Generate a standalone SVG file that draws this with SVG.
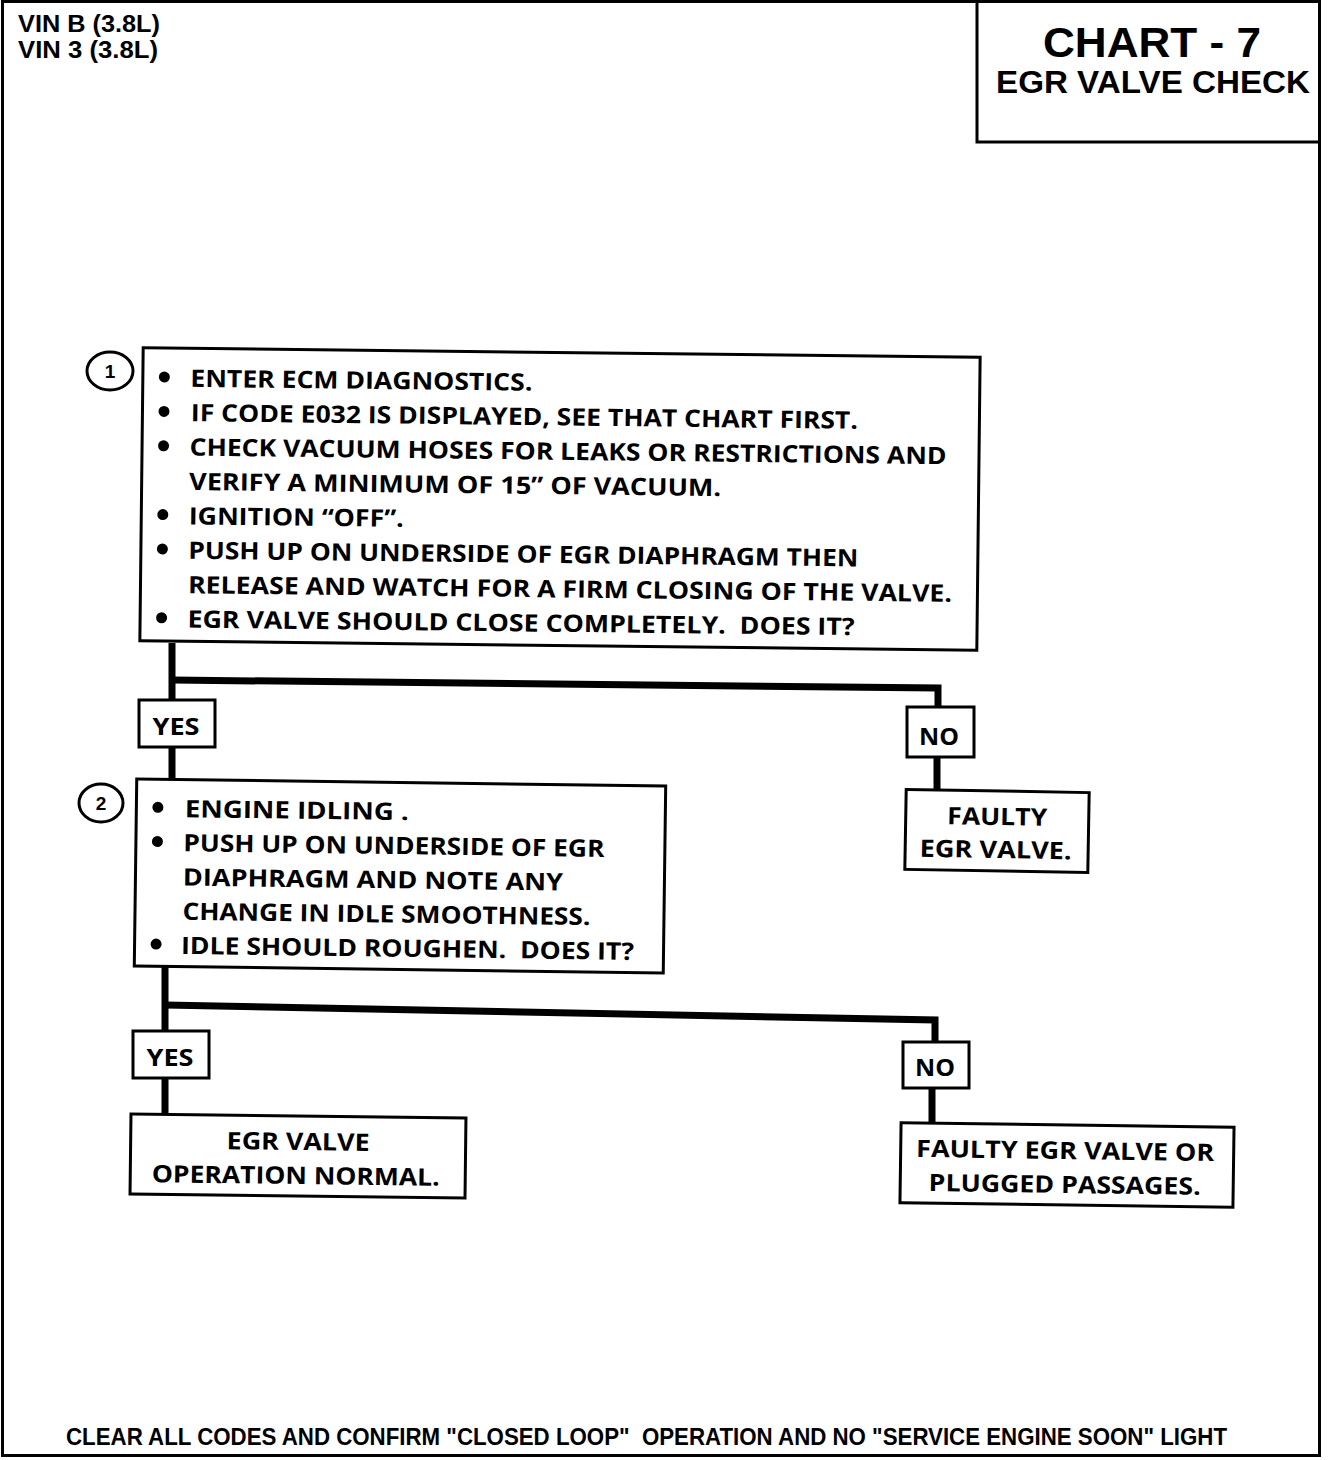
<svg xmlns="http://www.w3.org/2000/svg" width="1328" height="1460" viewBox="0 0 1328 1460" xml:space="preserve">
<style>
.frame{fill:none;stroke:#000;stroke-width:3}
.box{fill:#fff;stroke:#000;stroke-width:3}
.wire{fill:none;stroke:#000;stroke-width:7;stroke-linecap:butt;stroke-linejoin:miter}
.hd{font-family:"Liberation Sans",Arial,sans-serif;font-weight:bold;fill:#000}
.t{font-family:"Open Sans","Noto Sans",sans-serif;font-weight:700;font-size:24px;fill:#000;white-space:pre}
.c{text-anchor:middle}
.dot{fill:#000}
.ring{fill:#fff;stroke:#000;stroke-width:3}
.num{font-family:"Liberation Sans",Arial,sans-serif;font-weight:bold;font-size:19px;text-anchor:middle;fill:#000}
</style>
<rect width="1328" height="1460" fill="#fff"/>
<g id="frame">
<rect class="frame" x="2.5" y="1.5" width="1317" height="1454"/>
<path class="frame" d="M977 1.5 V142 H1319.5"/>
</g>
<g id="header">
<text class="hd" x="18" y="32" font-size="23" textLength="142" lengthAdjust="spacingAndGlyphs">VIN B (3.8L)</text>
<text class="hd" x="18" y="58" font-size="23" textLength="140" lengthAdjust="spacingAndGlyphs">VIN 3 (3.8L)</text>
<text class="hd c" x="1152" y="57" font-size="43" textLength="218" lengthAdjust="spacingAndGlyphs">CHART - 7</text>
<text class="hd c" x="1153" y="93" font-size="32" textLength="314" lengthAdjust="spacingAndGlyphs">EGR VALVE CHECK</text>
</g>
<g id="connectors">
<path class="wire" d="M172 643 V781"/>
<path class="wire" d="M172 680 L938 688 V710"/>
<path class="wire" d="M937 755 V791"/>
<path class="wire" d="M165 966 V1116"/>
<path class="wire" d="M165 1005 L935 1020 V1044"/>
<path class="wire" d="M932 1086 V1125"/>
</g>
<g id="step1">
<ellipse class="ring" cx="110" cy="371" rx="23" ry="19"/>
<text class="num" x="110" y="378">1</text>
<g transform="rotate(0.65 560 499)">
<rect class="box" x="141.5" y="352.5" width="837" height="293"/>
<circle class="dot" cx="163" cy="381.5" r="5.5"/>
<circle class="dot" cx="163" cy="415.9" r="5.5"/>
<circle class="dot" cx="163" cy="450.3" r="5.5"/>
<circle class="dot" cx="163" cy="519.1" r="5.5"/>
<circle class="dot" cx="163" cy="553.5" r="5.5"/>
<circle class="dot" cx="163" cy="622.3" r="5.5"/>
<text class="t" x="189" y="391" textLength="342" lengthAdjust="spacingAndGlyphs">ENTER ECM DIAGNOSTICS.</text>
<text class="t" x="190" y="425.4" textLength="667" lengthAdjust="spacingAndGlyphs">IF CODE E032 IS DISPLAYED, SEE THAT CHART FIRST.</text>
<text class="t" x="189" y="459.8" textLength="757" lengthAdjust="spacingAndGlyphs">CHECK VACUUM HOSES FOR LEAKS OR RESTRICTIONS AND</text>
<text class="t" x="189" y="494.2" textLength="532" lengthAdjust="spacingAndGlyphs">VERIFY A MINIMUM OF 15” OF VACUUM.</text>
<text class="t" x="189" y="528.6" textLength="215" lengthAdjust="spacingAndGlyphs">IGNITION “OFF”.</text>
<text class="t" x="189" y="563" textLength="670" lengthAdjust="spacingAndGlyphs">PUSH UP ON UNDERSIDE OF EGR DIAPHRAGM THEN</text>
<text class="t" x="189" y="597.4" textLength="764" lengthAdjust="spacingAndGlyphs">RELEASE AND WATCH FOR A FIRM CLOSING OF THE VALVE.</text>
<text class="t" x="189" y="631.8" textLength="667" lengthAdjust="spacingAndGlyphs">EGR VALVE SHOULD CLOSE COMPLETELY.  DOES IT?</text>
</g>
</g>
<g id="yes1">
<rect class="box" x="139" y="700" width="76" height="47"/>
<text class="t c" x="176" y="735" textLength="47" lengthAdjust="spacingAndGlyphs">YES</text>
</g>
<g id="no1">
<rect class="box" x="907" y="707" width="67" height="50"/>
<text class="t c" x="939" y="745" textLength="40" lengthAdjust="spacingAndGlyphs">NO</text>
</g>
<g id="faulty1" transform="rotate(1 997 831)">
<rect class="box" x="905.5" y="791" width="183" height="80"/>
<text class="t c" x="997" y="825" textLength="100" lengthAdjust="spacingAndGlyphs">FAULTY</text>
<text class="t c" x="996" y="858" textLength="152" lengthAdjust="spacingAndGlyphs">EGR VALVE.</text>
</g>
<g id="step2">
<ellipse class="ring" cx="101" cy="803" rx="22" ry="19"/>
<text class="num" x="101" y="810">2</text>
<g transform="rotate(0.75 400 876)">
<rect class="box" x="135.5" y="782.5" width="529" height="187"/>
<circle class="dot" cx="157" cy="810.5" r="5.5"/>
<circle class="dot" cx="157" cy="844.7" r="5.5"/>
<circle class="dot" cx="157" cy="947.3" r="5.5"/>
<text class="t" x="184" y="820" textLength="224" lengthAdjust="spacingAndGlyphs">ENGINE IDLING .</text>
<text class="t" x="183" y="854.2" textLength="421" lengthAdjust="spacingAndGlyphs">PUSH UP ON UNDERSIDE OF EGR</text>
<text class="t" x="183" y="888.4" textLength="380" lengthAdjust="spacingAndGlyphs">DIAPHRAGM AND NOTE ANY</text>
<text class="t" x="183" y="922.6" textLength="408" lengthAdjust="spacingAndGlyphs">CHANGE IN IDLE SMOOTHNESS.</text>
<text class="t" x="182" y="956.8" textLength="453" lengthAdjust="spacingAndGlyphs">IDLE SHOULD ROUGHEN.  DOES IT?</text>
</g>
</g>
<g id="yes2">
<rect class="box" x="133" y="1031" width="76" height="47"/>
<text class="t c" x="170" y="1066" textLength="47" lengthAdjust="spacingAndGlyphs">YES</text>
</g>
<g id="no2">
<rect class="box" x="903" y="1042" width="66" height="46"/>
<text class="t c" x="935" y="1076" textLength="40" lengthAdjust="spacingAndGlyphs">NO</text>
</g>
<g id="normal" transform="rotate(0.68 298 1156)">
<rect class="box" x="130.5" y="1116" width="335" height="80"/>
<text class="t c" x="298" y="1150" textLength="143" lengthAdjust="spacingAndGlyphs">EGR VALVE</text>
<text class="t c" x="296" y="1184" textLength="288" lengthAdjust="spacingAndGlyphs">OPERATION NORMAL.</text>
</g>
<g id="faulty2" transform="rotate(0.8 1067 1165)">
<rect class="box" x="900.5" y="1125" width="333" height="80"/>
<text class="t c" x="1065" y="1159" textLength="298" lengthAdjust="spacingAndGlyphs">FAULTY EGR VALVE OR</text>
<text class="t c" x="1065" y="1193" textLength="272" lengthAdjust="spacingAndGlyphs">PLUGGED PASSAGES.</text>
</g>
<g id="footer">
<text class="hd" x="66" y="1445" font-size="23" textLength="1161" lengthAdjust="spacingAndGlyphs" style="white-space:pre">CLEAR ALL CODES AND CONFIRM "CLOSED LOOP"  OPERATION AND NO "SERVICE ENGINE SOON" LIGHT</text>
</g>
</svg>
